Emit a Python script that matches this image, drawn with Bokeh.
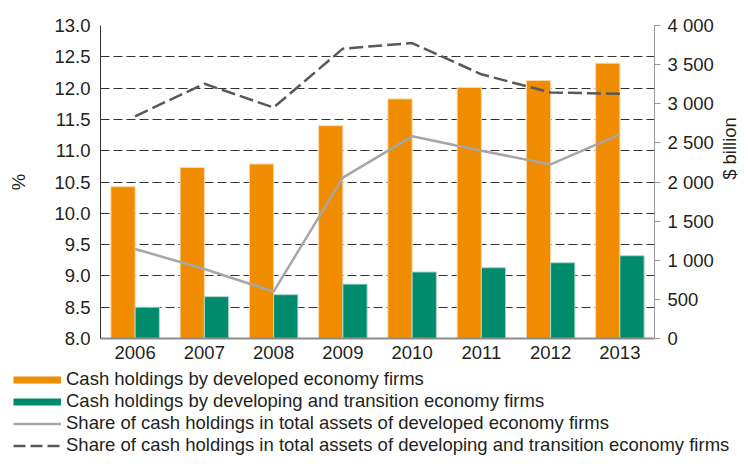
from math import pi
from bokeh.plotting import figure
from bokeh.layouts import column, row
from bokeh.models import (Range1d, LinearAxis, FixedTicker, PrintfTickFormatter,
                          Legend, LegendItem, Label, ColumnDataSource, FactorRange)
from bokeh.transform import dodge
from bokeh.embed import file_html
from bokeh.resources import INLINE

# ---- data ----
years = ["2006", "2007", "2008", "2009", "2010", "2011", "2012", "2013"]
cash_developed = [1940, 2185, 2230, 2720, 3062, 3207, 3296, 3518]          # $ billion
cash_developing = [400, 535, 560, 695, 850, 905, 968, 1058]               # $ billion
share_developed = [9.43, 9.11, 8.75, 10.57, 11.23, 11.0, 10.78, 11.26]      # %
share_developing = [11.55, 12.07, 11.69, 12.63, 12.72, 12.22, 11.93, 11.91]  # %

pct_ticks = [8.0, 8.5, 9.0, 9.5, 10.0, 10.5, 11.0, 11.5, 12.0, 12.5, 13.0]
bn_ticks = [0, 500, 1000, 1500, 2000, 2500, 3000, 3500, 4000]
bn_tick_labels = ["0", "500", "1 000", "1 500", "2 000", "2 500", "3 000", "3 500", "4 000"]

legend_labels = [
    "Cash holdings by developed economy firms",
    "Cash holdings by developing and transition economy firms",
    "Share of cash holdings in total assets of developed economy firms",
    "Share of cash holdings in total assets of developing and transition economy firms",
]

ORANGE = "#F08C00"
GREEN = "#008B6D"
LIGHT = "#A6A6A6"
DARK = "#595959"
FONT = "Liberation Sans"
FS = "18.5px"
TXT = "#231F20"

TOTAL_W, TOTAL_H = 740, 456
MAIN_W, MAIN_H = 716, 367
SIDE_W = TOTAL_W - MAIN_W
LEG_H = TOTAL_H - MAIN_H
ROW_H = 21

src = ColumnDataSource(dict(year=years, dev=cash_developed, dvg=cash_developing,
                            sdev=share_developed, sdvg=share_developing))

p = figure(width=MAIN_W, height=MAIN_H, x_range=FactorRange(factors=years),
           y_range=Range1d(8, 13), output_backend="svg", toolbar_location=None,
           min_border_left=100, min_border_right=MAIN_W - 655, min_border_top=25,
           min_border_bottom=MAIN_H - 338)
p.extra_y_ranges = {"bn": Range1d(0, 4000)}
p.x_range.range_padding = 0
p.outline_line_color = None

# grid
p.xgrid.grid_line_color = None
p.ygrid.ticker = FixedTicker(ticks=pct_ticks)
p.ygrid.grid_line_color = "#333333"
p.ygrid.grid_line_dash = "9 4"
p.ygrid.grid_line_width = 1

# bars (right axis, $ billion)
p.vbar(x=dodge("year", -0.175, range=p.x_range), top="dev", width=0.35, bottom=0,
       source=src, y_range_name="bn", fill_color=ORANGE, line_color="#FBD9A8",
       line_width=1)
p.vbar(x=dodge("year", 0.175, range=p.x_range), top="dvg", width=0.35, bottom=0,
       source=src, y_range_name="bn", fill_color=GREEN, line_color="#A8D8C8",
       line_width=1)

# lines (left axis, %)
p.line(x="year", y="sdev", source=src, line_color=LIGHT, line_width=2.5)
p.line(x="year", y="sdvg", source=src, line_color=DARK, line_width=2.5,
       line_dash="14 5")

# axes
ax = p.yaxis[0]
ax.ticker = FixedTicker(ticks=pct_ticks)
ax.formatter = PrintfTickFormatter(format="%.1f")
ax.major_tick_out = 0
ax.major_tick_in = 0
ax.minor_tick_line_color = None
ax.axis_line_color = "#333333"
ax.major_label_standoff = 10
ax.axis_label = "%"
ax.axis_label_standoff = 22
ax.axis_label_text_font_style = "normal"

rax = LinearAxis(y_range_name="bn", ticker=FixedTicker(ticks=bn_ticks))
rax.major_label_overrides = {t: s for t, s in zip(bn_ticks, bn_tick_labels)}
rax.major_tick_out = 6
rax.major_tick_in = 0
rax.minor_tick_line_color = None
rax.axis_line_color = "#999999"
rax.major_tick_line_color = "#999999"
rax.major_label_standoff = 7
p.add_layout(rax, "right")

xa = p.xaxis[0]
xa.major_tick_out = 0
xa.major_tick_in = 0
xa.axis_line_color = "#8C8C8C"
xa.axis_line_width = 2
xa.major_label_standoff = 7

for a in (ax, rax, xa):
    a.major_label_text_font = FONT
    a.major_label_text_font_size = FS
    a.major_label_text_color = TXT
    a.axis_label_text_font = FONT
    a.axis_label_text_font_size = FS
    a.axis_label_text_color = TXT


def blank(w, h):
    f = figure(width=w, height=h, output_backend="svg", toolbar_location=None,
               x_range=Range1d(0, 1), y_range=Range1d(0, 1),
               x_axis_location=None, y_axis_location=None,
               min_border_left=0, min_border_right=0, min_border_top=0,
               min_border_bottom=0)
    f.outline_line_color = None
    f.grid.grid_line_color = None
    return f


# right-hand axis title (reads bottom to top)
side = blank(SIDE_W, MAIN_H)
side.add_layout(Label(x=13, y=MAIN_H - 177, x_units="screen", y_units="screen",
                      text="$ billion", angle=pi / 2, text_align="center",
                      text_baseline="middle", text_font=FONT, text_font_size=FS,
                      text_color=TXT))

# legend panel
leg = blank(TOTAL_W, LEG_H)
nan = float("nan")
s_o = leg.line(x=[nan], y=[nan], line_color=ORANGE, line_width=7)
s_g = leg.line(x=[nan], y=[nan], line_color=GREEN, line_width=7)
s_l = leg.line(x=[nan], y=[nan], line_color=LIGHT, line_width=2.5)
s_d = leg.line(x=[nan], y=[nan], line_color=DARK, line_width=2.5, line_dash="12 5")
legend = Legend(items=[LegendItem(label=legend_labels[0], renderers=[s_o]),
                       LegendItem(label=legend_labels[1], renderers=[s_g]),
                       LegendItem(label=legend_labels[2], renderers=[s_l]),
                       LegendItem(label=legend_labels[3], renderers=[s_d])],
                location=(13, 0), orientation="vertical",
                glyph_width=48, glyph_height=ROW_H, label_height=ROW_H,
                label_standoff=5, spacing=0, padding=0, margin=0,
                border_line_alpha=0, background_fill_alpha=0,
                label_text_font=FONT, label_text_font_size=FS,
                label_text_color=TXT)
leg.add_layout(legend, "center")

layout = column(row(p, side, spacing=0), leg, spacing=0)
open("out.html", "w").write(file_html(layout, INLINE))
